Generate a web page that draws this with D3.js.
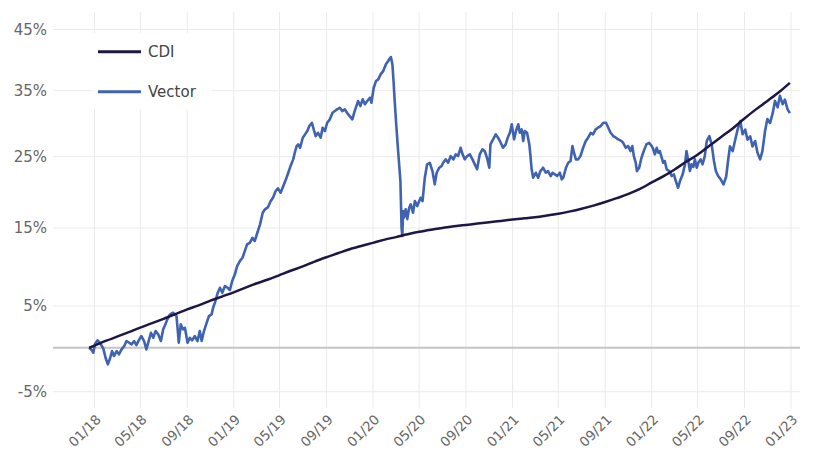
<!DOCTYPE html>
<html>
<head>
<meta charset="utf-8">
<script src="https://cdn.jsdelivr.net/npm/d3@7"></script>
<style>
    body { margin: 0; background: #fff; }
    text { font-family: "DejaVu Sans", Verdana, sans-serif; }
</style>
</head>
<body>
<script>
// cumulative return in %
const yTicks = [-5, 5, 15, 25, 35, 45];
const xTicks = ["2018-01-01", "2018-05-01", "2018-09-01", "2019-01-01", "2019-05-01", "2019-09-01",
    "2020-01-01", "2020-05-01", "2020-09-01", "2021-01-01", "2021-05-01", "2021-09-01",
    "2022-01-01", "2022-05-01", "2022-09-01", "2023-01-01"];
const seriesNames = ["CDI", "Vector"];

const cdiSeries = [
    ["2017-12-18", 0], ["2018-01-01", 0.25], ["2018-02-01", 0.83], ["2018-03-01", 1.30], ["2018-04-01", 1.84],
    ["2018-05-01", 2.38], ["2018-06-01", 2.91], ["2018-07-01", 3.44], ["2018-08-01", 4.00], ["2018-09-01", 4.59],
    ["2018-10-01", 5.08], ["2018-11-01", 5.65], ["2018-12-01", 6.16], ["2019-01-01", 6.69], ["2019-02-01", 7.27],
    ["2019-03-01", 7.79], ["2019-04-01", 8.30], ["2019-05-01", 8.86], ["2019-06-01", 9.44], ["2019-07-01", 9.96],
    ["2019-08-01", 10.59], ["2019-09-01", 11.15], ["2019-10-01", 11.66], ["2019-11-01", 12.19], ["2019-12-01", 12.62],
    ["2020-01-01", 13.03], ["2020-02-01", 13.46], ["2020-03-01", 13.79], ["2020-04-01", 14.17], ["2020-05-01", 14.50],
    ["2020-06-01", 14.78], ["2020-07-01", 15.02], ["2020-08-01", 15.23], ["2020-09-01", 15.42], ["2020-10-01", 15.60],
    ["2020-11-01", 15.79], ["2020-12-01", 15.96], ["2021-01-01", 16.15], ["2021-02-01", 16.32], ["2021-03-01", 16.47],
    ["2021-04-01", 16.70], ["2021-05-01", 16.95], ["2021-06-01", 17.26], ["2021-07-01", 17.62], ["2021-08-01", 18.05],
    ["2021-09-01", 18.55], ["2021-10-01", 19.08], ["2021-11-01", 19.67], ["2021-12-01", 20.37], ["2022-01-01", 21.29],
    ["2022-02-01", 22.18], ["2022-03-01", 23.11], ["2022-04-01", 24.25], ["2022-05-01", 25.28], ["2022-06-01", 26.58],
    ["2022-07-01", 27.87], ["2022-08-01", 29.18], ["2022-09-01", 30.70], ["2022-10-01", 32.09], ["2022-11-01", 33.44],
    ["2022-12-01", 34.80], ["2022-12-29", 36.25]
];

const vectorSeries = [
    ["2017-12-18", 0.00], ["2017-12-25", -0.30], ["2017-12-29", -0.58], ["2018-01-02", 0.40], ["2018-01-09", 0.87],
    ["2018-01-15", 0.59], ["2018-01-24", -0.07], ["2018-01-30", -1.16], ["2018-02-05", -1.92], ["2018-02-10", -1.34],
    ["2018-02-16", -0.38], ["2018-02-21", -0.96], ["2018-02-28", -0.38], ["2018-03-06", -0.77], ["2018-03-13", -0.19],
    ["2018-03-20", 0.20], ["2018-03-26", 0.79], ["2018-04-02", 0.59], ["2018-04-08", 0.40], ["2018-04-15", 0.79],
    ["2018-04-21", 0.32], ["2018-04-27", 0.87], ["2018-05-04", 1.38], ["2018-05-11", 0.79], ["2018-05-17", -0.19],
    ["2018-05-23", 0.79], ["2018-05-29", 1.77], ["2018-06-04", 1.17], ["2018-06-10", 1.97], ["2018-06-17", 1.58],
    ["2018-06-24", 0.79], ["2018-06-30", 2.17], ["2018-07-04", 2.57], ["2018-07-11", 3.37], ["2018-07-18", 3.98],
    ["2018-07-26", 4.17], ["2018-08-04", 3.77], ["2018-08-10", 0.59], ["2018-08-15", 2.77], ["2018-08-21", 2.17],
    ["2018-08-26", 2.36], ["2018-09-02", 0.59], ["2018-09-08", 1.17], ["2018-09-14", 0.87], ["2018-09-21", 1.38],
    ["2018-09-28", 0.79], ["2018-10-04", 1.97], ["2018-10-09", 0.79], ["2018-10-15", 1.97], ["2018-10-22", 2.96],
    ["2018-10-28", 3.77], ["2018-11-04", 3.98], ["2018-11-08", 4.78], ["2018-11-14", 5.60], ["2018-11-20", 6.63],
    ["2018-11-26", 7.26], ["2018-12-02", 6.63], ["2018-12-09", 7.47], ["2018-12-16", 7.26], ["2018-12-22", 6.97],
    ["2018-12-28", 8.10], ["2019-01-04", 8.95], ["2019-01-10", 10.01], ["2019-01-17", 10.65], ["2019-01-24", 11.08],
    ["2019-01-30", 11.95], ["2019-02-05", 12.83], ["2019-02-12", 13.04], ["2019-02-19", 13.70], ["2019-02-25", 13.27],
    ["2019-03-04", 14.37], ["2019-03-11", 15.50], ["2019-03-18", 17.07], ["2019-03-24", 17.54], ["2019-04-01", 17.85],
    ["2019-04-08", 18.68], ["2019-04-14", 19.14], ["2019-04-21", 20.08], ["2019-04-27", 20.46], ["2019-05-04", 19.84],
    ["2019-05-11", 20.78], ["2019-05-18", 21.73], ["2019-05-24", 22.67], ["2019-05-30", 23.63], ["2019-06-06", 24.60],
    ["2019-06-10", 25.57], ["2019-06-15", 26.55], ["2019-06-19", 26.80], ["2019-06-24", 26.30], ["2019-07-01", 27.79],
    ["2019-07-07", 28.29], ["2019-07-13", 28.79], ["2019-07-18", 29.54], ["2019-07-25", 30.04], ["2019-07-31", 28.79],
    ["2019-08-04", 28.04], ["2019-08-10", 28.53], ["2019-08-17", 27.79], ["2019-08-22", 29.29], ["2019-08-28", 28.79],
    ["2019-09-03", 30.04], ["2019-09-10", 30.56], ["2019-09-17", 31.57], ["2019-09-23", 31.83], ["2019-09-29", 32.09],
    ["2019-10-06", 32.34], ["2019-10-13", 31.83], ["2019-10-19", 32.10], ["2019-10-25", 31.57], ["2019-11-01", 31.06],
    ["2019-11-08", 30.56], ["2019-11-14", 31.83], ["2019-11-23", 33.38], ["2019-11-29", 32.60], ["2019-12-05", 33.65],
    ["2019-12-11", 32.87], ["2019-12-17", 33.38], ["2019-12-24", 33.90], ["2019-12-28", 33.12], ["2020-01-03", 35.47],
    ["2020-01-09", 36.53], ["2020-01-15", 36.80], ["2020-01-21", 37.60], ["2020-01-28", 38.13], ["2020-02-04", 39.22],
    ["2020-02-10", 39.76], ["2020-02-17", 40.41], ["2020-02-21", 39.22], ["2020-02-24", 36.53], ["2020-02-27", 33.38],
    ["2020-03-02", 29.80], ["2020-03-07", 25.82], ["2020-03-12", 22.20], ["2020-03-13", 21.49], ["2020-03-16", 15.04],
    ["2020-03-18", 13.93], ["2020-03-20", 17.31], ["2020-03-22", 16.39], ["2020-03-27", 17.54], ["2020-03-31", 16.20],
    ["2020-04-05", 17.76], ["2020-04-09", 18.23], ["2020-04-15", 17.07], ["2020-04-20", 18.68], ["2020-04-26", 17.99],
    ["2020-05-05", 19.14], ["2020-05-10", 18.68], ["2020-05-16", 21.96], ["2020-05-22", 23.88], ["2020-05-29", 24.11],
    ["2020-06-05", 22.91], ["2020-06-11", 21.02], ["2020-06-16", 22.67], ["2020-06-23", 23.39], ["2020-06-29", 23.63],
    ["2020-07-03", 24.11], ["2020-07-10", 24.60], ["2020-07-16", 24.11], ["2020-07-23", 25.08], ["2020-07-30", 24.60],
    ["2020-08-05", 25.33], ["2020-08-11", 25.08], ["2020-08-18", 26.30], ["2020-08-23", 25.33], ["2020-08-29", 24.60],
    ["2020-09-04", 25.08], ["2020-09-11", 25.33], ["2020-09-18", 24.60], ["2020-09-24", 23.88], ["2020-09-30", 23.16],
    ["2020-10-07", 25.33], ["2020-10-14", 26.06], ["2020-10-20", 25.82], ["2020-10-26", 24.84], ["2020-11-01", 23.39],
    ["2020-11-04", 26.80], ["2020-11-11", 27.55], ["2020-11-18", 28.29], ["2020-11-24", 27.79], ["2020-12-01", 27.04],
    ["2020-12-07", 26.30], ["2020-12-14", 26.80], ["2020-12-20", 27.90], ["2020-12-25", 28.53], ["2020-12-30", 29.80],
    ["2021-01-05", 27.55], ["2021-01-10", 28.79], ["2021-01-16", 29.80], ["2021-01-20", 28.53], ["2021-01-25", 29.04],
    ["2021-01-29", 27.29], ["2021-02-02", 28.79], ["2021-02-08", 28.53], ["2021-02-14", 26.80], ["2021-02-17", 25.08],
    ["2021-02-20", 23.16], ["2021-02-24", 21.96], ["2021-03-03", 22.67], ["2021-03-09", 21.96], ["2021-03-15", 22.91],
    ["2021-03-22", 23.39], ["2021-03-29", 22.67], ["2021-04-04", 22.91], ["2021-04-11", 22.20], ["2021-04-16", 22.67],
    ["2021-04-22", 22.44], ["2021-04-28", 22.20], ["2021-05-05", 22.67], ["2021-05-10", 21.73], ["2021-05-14", 21.96],
    ["2021-05-21", 23.39], ["2021-05-27", 24.11], ["2021-06-02", 24.36], ["2021-06-07", 26.55], ["2021-06-11", 25.57],
    ["2021-06-16", 24.60], ["2021-06-22", 24.60], ["2021-06-28", 25.08], ["2021-07-05", 26.30], ["2021-07-12", 27.29],
    ["2021-07-18", 27.79], ["2021-07-25", 28.53], ["2021-07-31", 28.29], ["2021-08-07", 29.04], ["2021-08-13", 29.29],
    ["2021-08-20", 29.54], ["2021-08-27", 30.04], ["2021-09-03", 30.04], ["2021-09-09", 29.29], ["2021-09-15", 28.53],
    ["2021-09-22", 28.04], ["2021-09-29", 27.79], ["2021-10-05", 27.55], ["2021-10-14", 27.29], ["2021-10-18", 27.04],
    ["2021-10-25", 26.30], ["2021-10-31", 26.55], ["2021-11-06", 25.82], ["2021-11-11", 26.55], ["2021-11-15", 25.08],
    ["2021-11-20", 24.11], ["2021-11-23", 22.91], ["2021-11-29", 23.39], ["2021-12-05", 24.84], ["2021-12-11", 25.82],
    ["2021-12-18", 26.80], ["2021-12-25", 27.04], ["2022-01-01", 26.55], ["2022-01-05", 26.06], ["2022-01-09", 25.33],
    ["2022-01-14", 26.30], ["2022-01-18", 25.57], ["2022-01-22", 25.82], ["2022-01-27", 24.84], ["2022-01-31", 24.11],
    ["2022-02-04", 24.36], ["2022-02-09", 23.16], ["2022-02-16", 22.91], ["2022-02-22", 22.20], ["2022-02-28", 22.44],
    ["2022-03-05", 21.49], ["2022-03-11", 20.54], ["2022-03-16", 21.49], ["2022-03-23", 22.44], ["2022-03-29", 23.88],
    ["2022-04-02", 25.82], ["2022-04-06", 24.60], ["2022-04-11", 22.91], ["2022-04-15", 23.88], ["2022-04-20", 23.50],
    ["2022-04-24", 24.60], ["2022-04-29", 23.39], ["2022-05-03", 24.11], ["2022-05-09", 24.60], ["2022-05-14", 23.88],
    ["2022-05-20", 25.08], ["2022-05-25", 27.29], ["2022-06-01", 28.04], ["2022-06-07", 26.80], ["2022-06-13", 24.36],
    ["2022-06-18", 22.91], ["2022-06-24", 22.20], ["2022-06-30", 21.80], ["2022-07-08", 21.00], ["2022-07-15", 22.10],
    ["2022-07-20", 24.40], ["2022-07-25", 26.50], ["2022-08-01", 25.80], ["2022-08-07", 27.30], ["2022-08-14", 29.00],
    ["2022-08-21", 30.30], ["2022-08-27", 28.30], ["2022-09-03", 29.00], ["2022-09-09", 27.50], ["2022-09-16", 28.00],
    ["2022-09-22", 26.50], ["2022-09-29", 27.30], ["2022-10-05", 25.60], ["2022-10-12", 24.60], ["2022-10-18", 25.80],
    ["2022-10-25", 28.80], ["2022-10-31", 30.60], ["2022-11-07", 30.00], ["2022-11-14", 31.50], ["2022-11-20", 33.40],
    ["2022-11-27", 32.40], ["2022-12-03", 34.20], ["2022-12-10", 32.90], ["2022-12-16", 33.60], ["2022-12-23", 32.10],
    ["2022-12-29", 31.50]
];

const width = 813,
    height = 452;
const plot = { left: 53, right: 800, top: 12, bottom: 408 };
const colors = { CDI: "#1c1745", Vector: "#3f62b1" };

const parseDate = d3.timeParse("%Y-%m-%d");
const formatTick = d3.timeFormat("%m/%y");

const svg = d3.select("body").append("svg")
    .attr("width", width)
    .attr("height", height);

// time axis, placed so 01/18 and 01/23 land on the reference gridlines
const x = d3.scaleTime()
    .domain([parseDate("2018-01-01"), parseDate("2023-01-01")])
    .range([94.5, 791]);

// y is log of the growth factor (1 + r)
const y = d3.scaleLog()
    .domain([0.95, 1.45])
    .range([391.7, 29.5]);
const yPos = function (v) { return y(1 + v / 100); };

// gridlines
svg.append("g").selectAll("line.hgrid")
    .data(yTicks)
    .enter()
    .append("line")
    .attr("x1", plot.left)
    .attr("x2", plot.right)
    .attr("y1", function (d) { return yPos(d); })
    .attr("y2", function (d) { return yPos(d); })
    .attr("stroke", "#ebebeb")
    .attr("stroke-width", 1);

svg.append("g").selectAll("line.vgrid")
    .data(xTicks)
    .enter()
    .append("line")
    .attr("x1", function (d) { return x(parseDate(d)); })
    .attr("x2", function (d) { return x(parseDate(d)); })
    .attr("y1", plot.top)
    .attr("y2", plot.bottom)
    .attr("stroke", "#ebebeb")
    .attr("stroke-width", 1);

// zero line
svg.append("line")
    .attr("x1", plot.left)
    .attr("x2", plot.right)
    .attr("y1", yPos(0))
    .attr("y2", yPos(0))
    .attr("stroke", "#c4c4c4")
    .attr("stroke-width", 2);

// tick labels
svg.append("g").selectAll("text")
    .data(yTicks)
    .enter()
    .append("text")
    .attr("x", 47)
    .attr("y", function (d) { return yPos(d); })
    .attr("dy", "0.36em")
    .attr("text-anchor", "end")
    .attr("fill", "#666")
    .style("font-size", "15px")
    .text(function (d) { return d + "%"; });

svg.append("g").selectAll("text")
    .data(xTicks)
    .enter()
    .append("text")
    .attr("transform", function (d) {
        return "translate(" + (x(parseDate(d)) + 4) + ",417) rotate(-45)";
    })
    .attr("text-anchor", "end")
    .attr("dy", "0.35em")
    .attr("fill", "#666")
    .style("font-size", "13.5px")
    .text(function (d) { return formatTick(parseDate(d)); });

// lines
const line = d3.line()
    .x(function (d) { return x(parseDate(d[0])); })
    .y(function (d) { return yPos(d[1]); });

svg.append("path")
    .datum(vectorSeries)
    .attr("fill", "none")
    .attr("stroke", colors.Vector)
    .attr("stroke-width", 2.6)
    .attr("stroke-linejoin", "round")
    .attr("d", line);

svg.append("path")
    .datum(cdiSeries)
    .attr("fill", "none")
    .attr("stroke", colors.CDI)
    .attr("stroke-width", 2.5)
    .attr("d", line.curve(d3.curveMonotoneX));

// legend
const legend = svg.append("g");
legend.append("rect")
    .attr("x", 92)
    .attr("y", 33)
    .attr("width", 120)
    .attr("height", 76)
    .attr("fill", "#fff");

const items = legend.selectAll("g.item")
    .data(seriesNames)
    .enter()
    .append("g")
    .attr("transform", function (d, i) { return "translate(98," + (51.7 + i * 40) + ")"; });

items.append("line")
    .attr("x1", 0)
    .attr("x2", 43)
    .attr("stroke", function (d) { return colors[d]; })
    .attr("stroke-width", 3);

items.append("text")
    .attr("x", 50)
    .attr("dy", "0.36em")
    .attr("fill", "#444")
    .style("font-size", "15px")
    .text(function (d) { return d; });
</script>
</body>
</html>
